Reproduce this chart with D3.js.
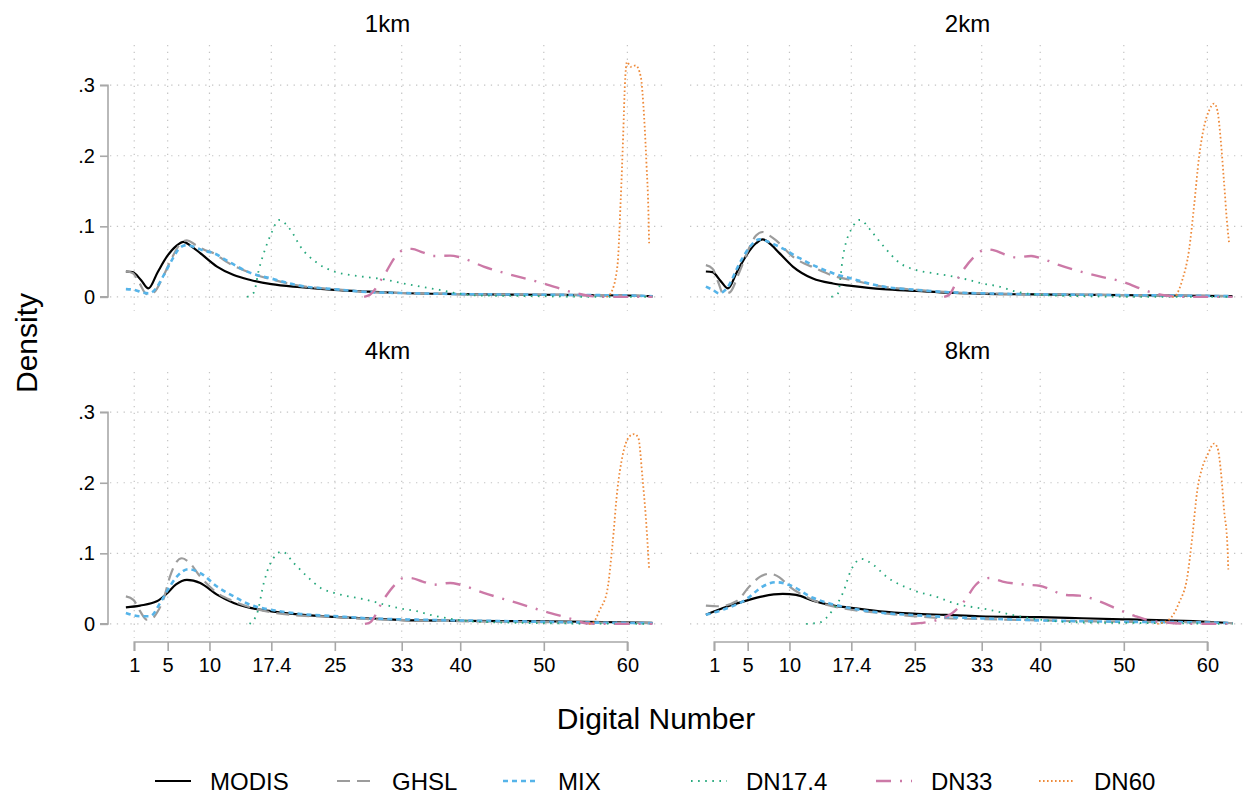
<!DOCTYPE html>
<html>
<head>
<meta charset="utf-8">
<script src="https://cdn.jsdelivr.net/npm/d3@7"></script>
<style>
  body { margin: 0; background: #fff; }
  text { font-family: "Liberation Sans", Arial, Helvetica, sans-serif; fill: #000; }
</style>
</head>
<body>
<div id="chart"></div>
<script>
// tick values
var dnTicks = [1, 5, 10, 17.4, 25, 33, 40, 50, 60];
var densityTicks = [0, 0.1, 0.2, 0.3];
var panelNames = ['1km', '2km', '4km', '8km'];
var seriesNames = ['MODIS', 'GHSL', 'MIX', 'DN17.4', 'DN33', 'DN60'];

// [digital number, density]
var modis1km = [[0,0.036],[0.8,0.035],[1.8,0.024],[2.7,0.012],[3.8,0.035],[4.9,0.057],[6,0.072],[6.9,0.078],[7.8,0.072],[8.9,0.062],[10.9,0.043],[12.9,0.031],[14.9,0.024],[17.4,0.018],[20.9,0.0137],[24.9,0.0099],[28.8,0.0075],[32.8,0.0055],[40,0.004],[50,0.003],[60,0.002],[63,0.001]];
var ghsl1km = [[0,0.036],[0.8,0.034],[1.6,0.02],[2.5,0.004],[3.3,0.006],[4.5,0.03],[5.5,0.055],[6.5,0.075],[7.3,0.08],[8.3,0.074],[9.5,0.066],[10.5,0.062],[12,0.05],[14.9,0.034],[17.4,0.025],[20.9,0.0156],[24.9,0.011],[28.8,0.007],[32.8,0.0055],[40,0.004],[50,0.003],[60,0.002],[63,0.001]];
var mix1km = [[0,0.011],[1,0.01],[2,0.006],[2.8,0.005],[3.6,0.012],[4.5,0.03],[5.5,0.052],[6.5,0.07],[7.3,0.0735],[8.3,0.07],[9.5,0.065],[10.5,0.062],[12,0.052],[14.9,0.034],[17.4,0.026],[20.9,0.0156],[24.9,0.011],[28.8,0.007],[32.8,0.0055],[40,0.004],[50,0.003],[60,0.002],[63,0.001]];
var dn174_1km = [[14.5,0],[15.3,0.006],[15.9,0.038],[16.5,0.062],[17.4,0.09],[18.3,0.109],[19.7,0.095],[20.9,0.071],[22.9,0.048],[24.9,0.036],[26.9,0.031],[28.8,0.028],[30.8,0.025],[32.8,0.02],[35.2,0.0146],[37.5,0.01],[39.7,0.005],[42,0.002],[50,0.001],[56,0],[63,0]];
var dn33_1km = [[28.5,0],[29.2,0.003],[30.8,0.029],[32.4,0.059],[33.4,0.0675],[34.2,0.068],[35.5,0.063],[36.8,0.058],[38.8,0.0585],[40,0.056],[42.8,0.043],[46.8,0.029],[50,0.019],[53.6,0.006],[55.2,0.002],[57,0],[63,0]];
var dn60_1km = [[57.5,0],[58,0.005],[58.8,0.043],[59.2,0.137],[59.5,0.23],[59.7,0.3],[59.95,0.333],[60.4,0.326],[61,0.328],[61.6,0.312],[62,0.255],[62.3,0.184],[62.5,0.128],[62.6,0.076]];

var modis2km = [[0,0.036],[0.8,0.035],[1.8,0.022],[2.65,0.012],[3.7,0.035],[4.9,0.06],[6,0.076],[6.8,0.0815],[7.8,0.074],[8.8,0.062],[10.4,0.043],[12.8,0.026],[15.2,0.019],[17.4,0.0156],[21.2,0.011],[25.2,0.0085],[29.1,0.006],[35.1,0.004],[45,0.003],[55,0.002],[63,0.001]];
var ghsl2km = [[0,0.045],[0.8,0.04],[1.5,0.02],[2.05,0.005],[2.8,0.006],[4,0.035],[5.2,0.07],[6,0.087],[6.8,0.092],[7.6,0.087],[8.4,0.08],[10.4,0.057],[13.2,0.04],[15.2,0.03],[17.4,0.024],[21.2,0.0146],[25.2,0.0099],[29.1,0.0066],[35.1,0.0045],[45,0.003],[55,0.002],[63,0.001]];
var mix2km = [[0,0.0146],[0.8,0.01],[1.6,0.005],[2.5,0.012],[4.05,0.048],[5.2,0.07],[6.4,0.0815],[7.5,0.078],[8.8,0.071],[11.2,0.055],[13.2,0.043],[15.2,0.0335],[17.4,0.026],[21.2,0.0146],[25.2,0.0099],[29.1,0.0066],[35.1,0.0045],[45,0.003],[55,0.002],[63,0.001]];
var dn174_2km = [[15,0],[15.8,0.005],[16.4,0.057],[17.6,0.1],[18.4,0.109],[20,0.09],[21.1,0.074],[23.2,0.048],[25.2,0.038],[27.2,0.0335],[29.1,0.03],[31.1,0.025],[33.1,0.019],[35.1,0.0146],[37.1,0.0075],[39.9,0.003],[45,0.001],[55,0],[63,0]];
var dn33_2km = [[28.5,0],[29.1,0.003],[30.3,0.029],[32.3,0.059],[33.5,0.0675],[34.5,0.066],[35.8,0.06],[37.1,0.056],[38.9,0.058],[40.5,0.053],[42.3,0.045],[47.1,0.029],[49.8,0.0217],[53,0.0075],[55,0.002],[57,0],[63,0]];
var dn60_2km = [[55.8,0],[56.2,0.002],[57,0.024],[57.8,0.066],[58.4,0.128],[59,0.198],[59.6,0.241],[60.2,0.264],[60.8,0.274],[61.2,0.264],[61.6,0.222],[62,0.161],[62.4,0.099],[62.6,0.076]];

var modis4km = [[0,0.0235],[1.7,0.026],[3.7,0.032],[4.9,0.043],[6,0.056],[7.3,0.0625],[8.9,0.058],[10.9,0.0414],[12.9,0.0297],[14.9,0.0226],[17.4,0.0178],[20.9,0.013],[24.9,0.0099],[28.8,0.008],[34.8,0.005],[45,0.004],[55,0.003],[63,0.0015]];
var ghsl4km = [[0,0.039],[0.9,0.034],[1.7,0.018],[2.5,0.006],[3.2,0.008],[3.7,0.0155],[4.5,0.035],[5.3,0.068],[6,0.087],[6.7,0.093],[7.5,0.088],[8.9,0.067],[10.9,0.044],[12.9,0.032],[17.4,0.0164],[20.9,0.0117],[24.9,0.0099],[28.8,0.007],[34.8,0.005],[45,0.003],[55,0.002],[63,0.001]];
var mix4km = [[0,0.0155],[1.7,0.0108],[2.9,0.0108],[4.1,0.0297],[4.9,0.046],[6.1,0.067],[7.5,0.0775],[8.9,0.072],[10.9,0.053],[12.9,0.039],[14.9,0.027],[17.4,0.02],[20.9,0.0141],[24.9,0.011],[28.8,0.008],[34.8,0.006],[45,0.004],[55,0.002],[63,0.001]];
var dn174_4km = [[14.8,0],[15.7,0.015],[16.5,0.058],[17.3,0.086],[18.7,0.1025],[20.1,0.086],[21.7,0.067],[23.3,0.051],[24.9,0.044],[28.8,0.034],[32.8,0.022],[34.8,0.018],[36.8,0.0117],[39.6,0.006],[42,0.003],[50,0.001],[63,0]];
var dn33_4km = [[28.6,0],[29.2,0.002],[30.8,0.034],[32.4,0.058],[33.2,0.065],[34,0.065],[35.5,0.06],[36.8,0.0555],[38.8,0.058],[40,0.0555],[42.8,0.044],[46.8,0.0297],[50,0.018],[53.6,0.006],[55,0.001],[57,0],[63,0]];
var dn60_4km = [[55.4,0],[55.9,0.002],[56.7,0.02],[57.6,0.048],[58.2,0.11],[58.8,0.19],[59.4,0.237],[60.2,0.265],[60.8,0.269],[61.3,0.264],[61.8,0.208],[62.2,0.152],[62.6,0.077]];

var modis8km = [[0,0.013],[2.05,0.0226],[4.85,0.033],[6.8,0.039],[9.2,0.0424],[10.8,0.041],[12.8,0.033],[14.8,0.027],[17.4,0.0226],[20.8,0.0178],[24.75,0.0145],[28.7,0.0127],[32.7,0.0108],[40,0.0095],[45,0.008],[50,0.0065],[55,0.005],[60,0.003],[63,0.001]];
var ghsl8km = [[0,0.026],[1.6,0.025],[3.65,0.032],[5.2,0.053],[6.5,0.067],[7.6,0.071],[8.8,0.066],[10,0.053],[12.8,0.034],[17.4,0.02],[20.8,0.0155],[24.75,0.011],[28.7,0.008],[32.7,0.007],[40,0.005],[50,0.003],[60,0.002],[63,0.001]];
var mix8km = [[0,0.013],[2,0.02],[4.85,0.035],[6.8,0.053],[8.4,0.059],[10,0.055],[12.8,0.037],[14.8,0.029],[17.4,0.022],[20.8,0.016],[24.75,0.0125],[28.7,0.0099],[32.7,0.008],[40,0.005],[50,0.003],[60,0.002],[63,0.001]];
var dn174_8km = [[12,0],[13.6,0.002],[15.2,0.02],[16.4,0.044],[17.4,0.077],[18.6,0.092],[20,0.084],[21.6,0.067],[24.75,0.048],[27.9,0.037],[29.5,0.03],[33.9,0.02],[37.1,0.0117],[40,0.006],[45,0.002],[55,0.001],[63,0]];
var dn33_8km = [[24.5,0],[26.7,0.003],[28.3,0.008],[29.5,0.0155],[30.9,0.032],[32.3,0.0555],[33.9,0.065],[35.5,0.06],[38.3,0.0555],[39.9,0.054],[43.1,0.041],[44.7,0.04],[47.1,0.032],[49.4,0.02],[51.4,0.0108],[53,0.005],[55,0.002],[58,0],[63,0]];
var dn60_8km = [[54,0],[55.4,0.006],[56.6,0.0297],[57.6,0.067],[58.2,0.124],[58.8,0.19],[59.4,0.222],[60,0.239],[60.8,0.2555],[61.2,0.25],[61.6,0.218],[62,0.161],[62.4,0.11],[62.5,0.077]];

var panelData = [
  [modis1km, ghsl1km, mix1km, dn174_1km, dn33_1km, dn60_1km],
  [modis2km, ghsl2km, mix2km, dn174_2km, dn33_2km, dn60_2km],
  [modis4km, ghsl4km, mix4km, dn174_4km, dn33_4km, dn60_4km],
  [modis8km, ghsl8km, mix8km, dn174_8km, dn33_8km, dn60_8km]
];

var styles = [
  { color: '#000000', width: 2.2, dash: null },
  { color: '#9c9c9c', width: 2.2, dash: '13,7' },
  { color: '#56b4e9', width: 2.6, dash: '5,4' },
  { color: '#26a87c', width: 1.8, dash: '1.6,5.5' },
  { color: '#cc79a7', width: 2.4, dash: '15,9,2,9' },
  { color: '#ee8a3a', width: 1.8, dash: '1.6,2.4' }
];

var width = 1248, height = 800;
var panelW = 555, panelH = 266;
var panelX = [110, 690];
var panelY = [45, 372];

var svg = d3.select('#chart')
  .append('svg')
  .attr('width', width)
  .attr('height', height);

var x = d3.scaleLinear().domain([-1.9, 64.5]).range([0, panelW]);
var y = d3.scaleLinear().domain([-0.02, 0.357]).range([panelH, 0]);

var fmtY = function(d) { return d === 0 ? '0' : d3.format('.1f')(d).replace(/^0/, ''); };

var line = d3.line()
  .x(function(d) { return x(d[0]); })
  .y(function(d) { return y(d[1]); })
  .curve(d3.curveMonotoneX);

panelNames.forEach(function(name, i) {
  var col = i % 2, row = Math.floor(i / 2);
  var g = svg.append('g')
    .attr('transform', 'translate(' + panelX[col] + ',' + panelY[row] + ')');

  // grid
  g.selectAll('.hgrid')
    .data(densityTicks)
    .enter().append('line')
    .attr('x1', 0).attr('x2', panelW)
    .attr('y1', function(d) { return y(d); })
    .attr('y2', function(d) { return y(d); })
    .attr('stroke', '#c4c4c4').attr('stroke-width', 1.2)
    .attr('stroke-dasharray', '1.3,5.5');

  g.selectAll('.vgrid')
    .data(dnTicks)
    .enter().append('line')
    .attr('x1', function(d) { return x(d); })
    .attr('x2', function(d) { return x(d); })
    .attr('y1', 0).attr('y2', panelH)
    .attr('stroke', '#c4c4c4').attr('stroke-width', 1.2)
    .attr('stroke-dasharray', '1.3,5.5');

  // y axis on left column
  if (col === 0) {
    var yAxis = d3.axisLeft(y).tickValues(densityTicks).tickFormat(fmtY).tickSize(8).tickPadding(5);
    var ya = g.append('g').attr('transform', 'translate(-2,0)').call(yAxis);
    ya.select('.domain').attr('d', 'M-8,' + y(0.3) + 'H0V' + y(0) + 'H-8');
    ya.selectAll('path,line').attr('stroke', '#a8a8a8').attr('stroke-width', 1.6);
    ya.selectAll('text').style('font-size', '20px').attr('fill', '#000');
  }

  // x axis on bottom row
  if (row === 1) {
    var xAxis = d3.axisBottom(x).tickValues(dnTicks).tickFormat(function(d) { return d; }).tickSize(9).tickPadding(7);
    var xa = g.append('g').attr('transform', 'translate(0,' + (panelH + 4) + ')').call(xAxis);
    xa.select('.domain').attr('d', 'M' + x(1) + ',9V0H' + x(60) + 'V9');
    xa.selectAll('path,line').attr('stroke', '#a8a8a8').attr('stroke-width', 1.6);
    xa.selectAll('text').style('font-size', '20px').attr('fill', '#000');
  }

  // curves
  panelData[i].forEach(function(series, s) {
    var st = styles[s];
    g.append('path')
      .datum(series)
      .attr('d', line)
      .attr('fill', 'none')
      .attr('stroke', st.color)
      .attr('stroke-width', st.width)
      .attr('stroke-dasharray', st.dash);
  });

  // panel title
  svg.append('text')
    .attr('x', panelX[col] + panelW / 2)
    .attr('y', panelY[row] - 13)
    .attr('text-anchor', 'middle')
    .style('font-size', '24px')
    .text(name);
});

// axis titles
svg.append('text')
  .attr('transform', 'translate(37,343) rotate(-90)')
  .attr('text-anchor', 'middle')
  .style('font-size', '30px')
  .text('Density');

svg.append('text')
  .attr('x', 656)
  .attr('y', 729)
  .attr('text-anchor', 'middle')
  .style('font-size', '30px')
  .text('Digital Number');

// legend
var legendX = [155, 337, 503, 691, 876, 1039];
var legendY = 781;
var legend = svg.append('g');
seriesNames.forEach(function(name, s) {
  var st = styles[s];
  legend.append('line')
    .attr('x1', legendX[s]).attr('x2', legendX[s] + 36)
    .attr('y1', legendY).attr('y2', legendY)
    .attr('stroke', st.color)
    .attr('stroke-width', st.width)
    .attr('stroke-dasharray', st.dash);
  legend.append('text')
    .attr('x', legendX[s] + 55)
    .attr('y', legendY + 8.5)
    .style('font-size', '24px')
    .text(name);
});
</script>
</body>
</html>
